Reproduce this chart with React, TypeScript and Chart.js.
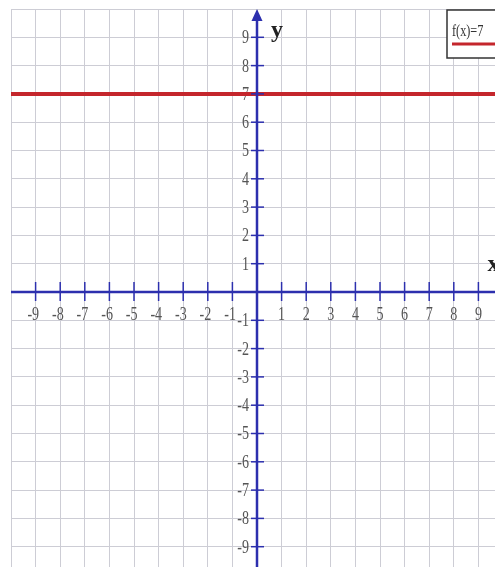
import React, { useEffect, useRef } from "react";
import { Chart, registerables } from "chart.js";

Chart.register(...registerables);

// Coordinate plane extent
const xMin = -10;
const xMax = 10;
const yMin = -10;
const yMax = 10;

// Tick labels along each axis (origin is left unlabeled)
const xTickValues = [-9, -8, -7, -6, -5, -4, -3, -2, -1, 1, 2, 3, 4, 5, 6, 7, 8, 9];
const xTickLabels = ["-9", "-8", "-7", "-6", "-5", "-4", "-3", "-2", "-1", "1", "2", "3", "4", "5", "6", "7", "8", "9"];
const yTickValues = [9, 8, 7, 6, 5, 4, 3, 2, 1, -1, -2, -3, -4, -5, -6, -7, -8, -9];
const yTickLabels = ["9", "8", "7", "6", "5", "4", "3", "2", "1", "-1", "-2", "-3", "-4", "-5", "-6", "-7", "-8", "-9"];

// The constant function f(x) = 7
const seriesLabel = "f(x)=7";
const lineX = [-10, 10];
const lineY = [7, 7];

const axisTitleX = "x";
const axisTitleY = "y";

const AXIS_BLUE = "#2c2fae";
const LINE_RED = "#c4262c";
const LABEL_GRAY = "#555555";
const LABEL_FONT = "19px 'Liberation Serif', serif";
const CONDENSE = 0.74;

// Draws text squeezed horizontally, anchored at (x, y)
function condensedText(ctx: CanvasRenderingContext2D, text: string, x: number, y: number, align: CanvasTextAlign, sx: number) {
  ctx.save();
  ctx.translate(x, y);
  ctx.scale(sx, 1);
  ctx.textAlign = align;
  ctx.fillText(text, 0, 0);
  ctx.restore();
}

const labelsPlugin = {
  id: "tickLabels",
  beforeDatasetsDraw(chart: any) {
    const ctx = chart.ctx;
    const xs = chart.scales.x;
    const ys = chart.scales.y;
    const x0 = xs.getPixelForValue(0);
    const y0 = ys.getPixelForValue(0);
    ctx.save();
    ctx.font = LABEL_FONT;
    ctx.fillStyle = LABEL_GRAY;
    ctx.textBaseline = "middle";
    // y-axis numbers, right-aligned just left of the axis
    yTickValues.forEach((v, i) => {
      condensedText(ctx, yTickLabels[i], x0 - 8, ys.getPixelForValue(v) + 1, "right", CONDENSE);
    });
    // x-axis numbers, digits centred under the tick
    xTickValues.forEach((v, i) => {
      const txt = xTickLabels[i];
      const digits = txt.replace("-", "");
      const dw = ctx.measureText(digits).width * CONDENSE;
      const px = xs.getPixelForValue(v);
      condensedText(ctx, txt, px + dw / 2, y0 + 23, "right", CONDENSE);
    });
    ctx.restore();
  },
};

const axesPlugin = {
  id: "cartesianAxes",
  afterDatasetsDraw(chart: any) {
    const ctx = chart.ctx;
    const xs = chart.scales.x;
    const ys = chart.scales.y;
    const area = chart.chartArea;
    const x0 = xs.getPixelForValue(0);
    const y0 = ys.getPixelForValue(0);
    ctx.save();
    ctx.strokeStyle = AXIS_BLUE;
    ctx.fillStyle = AXIS_BLUE;
    ctx.lineWidth = 2.5;
    // x axis
    ctx.beginPath();
    ctx.moveTo(area.left, y0);
    ctx.lineTo(area.right, y0);
    ctx.stroke();
    // y axis
    ctx.beginPath();
    ctx.moveTo(x0, area.bottom);
    ctx.lineTo(x0, area.top + 8);
    ctx.stroke();
    // arrow head at top of y axis
    ctx.beginPath();
    ctx.moveTo(x0, area.top);
    ctx.lineTo(x0 - 5.5, area.top + 12);
    ctx.lineTo(x0 + 5.5, area.top + 12);
    ctx.closePath();
    ctx.fill();
    // tick marks
    ctx.lineWidth = 1.5;
    yTickValues.forEach((v) => {
      const py = ys.getPixelForValue(v);
      ctx.beginPath();
      ctx.moveTo(x0 - 6, py);
      ctx.lineTo(x0 + 7, py);
      ctx.stroke();
    });
    xTickValues.forEach((v) => {
      const px = xs.getPixelForValue(v);
      ctx.beginPath();
      ctx.moveTo(px, y0 - 10);
      ctx.lineTo(px, y0 + 9);
      ctx.stroke();
    });
    // axis names
    ctx.fillStyle = "#222";
    ctx.font = "bold 24px 'Liberation Serif', serif";
    ctx.textBaseline = "middle";
    ctx.textAlign = "center";
    ctx.fillText(axisTitleY, x0 + 20, area.top + 22);
    ctx.textAlign = "left";
    ctx.fillText(axisTitleX, xs.getPixelForValue(9.37), y0 - 27);
    ctx.restore();
  },
};

const legendPlugin = {
  id: "boxLegend",
  afterDraw(chart: any) {
    const ctx = chart.ctx;
    const ds = chart.data.datasets[0];
    const left = 447;
    const top = 10;
    const w = 70;
    const h = 48;
    ctx.save();
    ctx.fillStyle = "#ffffff";
    ctx.fillRect(left, top, w, h);
    ctx.strokeStyle = "#333";
    ctx.lineWidth = 1.5;
    ctx.strokeRect(left, top, w, h);
    ctx.fillStyle = "#333";
    ctx.font = "17px 'Liberation Serif', serif";
    ctx.textBaseline = "middle";
    condensedText(ctx, ds.label, left + 5, top + 22, "left", 0.72);
    ctx.strokeStyle = ds.borderColor;
    ctx.lineWidth = 3;
    ctx.beginPath();
    ctx.moveTo(left + 5, top + 34);
    ctx.lineTo(left + w, top + 34);
    ctx.stroke();
    ctx.restore();
  },
};

export default function App() {
  const canvasRef = useRef<HTMLCanvasElement | null>(null);

  useEffect(() => {
    const canvas = canvasRef.current;
    if (!canvas) return;
    const chart = new Chart(canvas, {
      type: "line",
      data: {
        datasets: [
          {
            label: seriesLabel,
            data: lineX.map((x, i) => ({ x, y: lineY[i] })),
            borderColor: LINE_RED,
            borderWidth: 4,
            pointRadius: 0,
            fill: false,
          },
        ],
      },
      options: {
        animation: false,
        responsive: false,
        devicePixelRatio: 1,
        layout: { padding: { left: 11, top: 9, right: 0, bottom: 0 } },
        plugins: { legend: { display: false }, tooltip: { enabled: false } },
        scales: {
          x: {
            type: "linear",
            min: xMin,
            max: xMax,
            ticks: { display: false, stepSize: 1 },
            grid: { color: "#cdcdd5", lineWidth: 1, drawTicks: false },
            border: { display: false },
            afterFit: (s: any) => {
              s.height = 0;
            },
          },
          y: {
            type: "linear",
            min: yMin,
            max: yMax,
            ticks: { display: false, stepSize: 1 },
            grid: { color: "#cdcdd5", lineWidth: 1, drawTicks: false },
            border: { display: false },
            afterFit: (s: any) => {
              s.width = 0;
            },
          },
        },
      },
      plugins: [labelsPlugin, axesPlugin, legendPlugin],
    });
    return () => chart.destroy();
  }, []);

  return (
    <div
      style={{
        position: "fixed",
        left: 0,
        top: 0,
        width: "100vw",
        height: "100vh",
        overflow: "hidden",
        background: "#fff",
      }}
    >
      <canvas ref={canvasRef} width={503} height={575} style={{ width: 503, height: 575, display: "block" }} />
    </div>
  );
}
